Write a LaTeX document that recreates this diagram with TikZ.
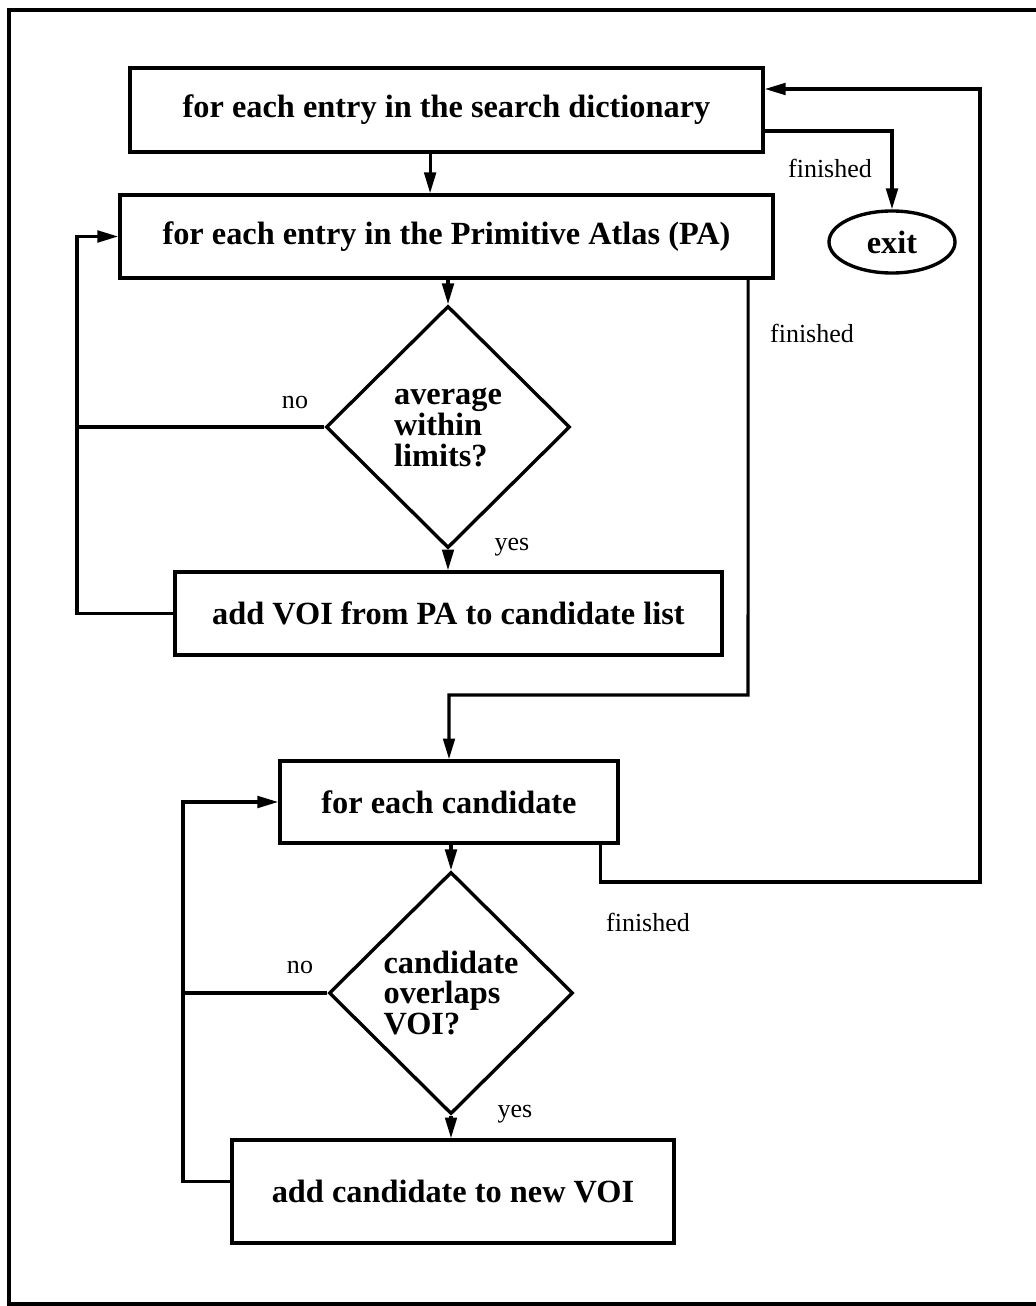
\documentclass[tikz,border=0pt]{standalone}
\usepackage{fontspec}
\setmainfont{Liberation Serif}
\usetikzlibrary{arrows.meta,shapes.geometric}

\begin{document}
\begin{tikzpicture}[x=0.025cm,y=-0.025cm,>={Triangle[length=5.2mm,width=2.9mm]},
  line width=2.2pt,
  stepbox/.style={draw,line width=2.4pt,inner sep=0pt,font=\bfseries\fontsize{23}{24}\selectfont},
  test/.style={draw,diamond,line width=2.4pt,inner sep=0pt,minimum width=6.1cm,minimum height=6.05cm,
    align=left,font=\bfseries\fontsize{23}{22}\selectfont},
  lbl/.style={inner sep=0pt,font=\fontsize{18.5}{20}\selectfont}]
  \useasboundingbox (0,0) rectangle (1036,1306);
  % page frame (right side runs off the sheet)
  \draw[line width=2.4pt] (1060,10) -- (9,10) -- (9,1304) -- (1060,1304);

  % outer loop over the search dictionary
  \node[stepbox,minimum width=15.825cm,minimum height=2.1cm] (dict) at (446.5,110)
    {for each entry in the search dictionary};
  \node[draw,ellipse,line width=2.4pt,inner sep=0pt,minimum width=3.15cm,minimum height=1.55cm,
    font=\bfseries\fontsize{23}{24}\selectfont] (exit) at (892,242) {exit};

  % loop over the atlas
  \node[stepbox,minimum width=16.325cm,minimum height=2.075cm] (atlas) at (446.5,236.5)
    {for each entry in the Primitive Atlas (PA)};
  \node[test] (avg) at (448,427) {average\\within\\limits?};
  \node[stepbox,minimum width=13.675cm,minimum height=2.075cm] (addvoi) at (448.5,613.5)
    {add VOI from PA to candidate list};

  % loop over the candidates
  \node[stepbox,minimum width=8.45cm,minimum height=2.05cm] (cand) at (449,802)
    {for each candidate};
  \node[test] (overlap) at (451,993) {candidate\\overlaps\\VOI?};
  \node[stepbox,minimum width=11.05cm,minimum height=2.575cm] (addcand) at (453,1191.5)
    {add candidate to new VOI};

  \coordinate (loopA) at (77,0);
  \coordinate (loopB) at (183,0);
  \coordinate (skip) at (748,695);
  \coordinate (back) at (980,882);

  % straight flow
  \draw[->] ([xshift=-4.1mm]dict.south) -- ([xshift=-4.1mm]atlas.north);
  \draw[->] (atlas.south -| avg.north) -- (avg.north);
  \draw[->] (avg.south) -- (avg.south |- addvoi.north);
  \draw[->] (cand.south -| overlap.north) -- (overlap.north);
  \draw[->] (overlap.south) -- (overlap.south |- addcand.north);

  % loop backs
  \draw[->] (avg.west) -- (avg.west -| loopA) |- (atlas.west);
  \draw (addvoi.west) -- (addvoi.west -| loopA) -- (avg.west -| loopA);
  \draw[->] (overlap.west) -- (overlap.west -| loopB) |- (cand.west);
  \draw ([yshift=2.4mm]addcand.west) -- ([yshift=2.4mm]addcand.west -| loopB)
    -- (overlap.west -| loopB);

  % finished branches
  \draw[->] ([yshift=-5.25mm]dict.east) -| (exit.north);
  \draw[->] ([xshift=7.54cm]atlas.south) -- (skip) -| (cand.north);
  \draw[->] ([xshift=3.775cm]cand.south) |- (back) |- ([yshift=5.25mm]dict.east);

  % branch labels
  \node[lbl] (fin1) at (830,168) {finished};
  \node[lbl] (fin2) at (812,333) {finished};
  \node[lbl] (fin3) at (648,922) {finished};
  \node[lbl] (no1) at (295,402) {no};
  \node[lbl] (yes1) at (512,547) {yes};
  \node[lbl] (no2) at (300,967) {no};
  \node[lbl] (yes2) at (515,1114) {yes};
\end{tikzpicture}
\end{document}
